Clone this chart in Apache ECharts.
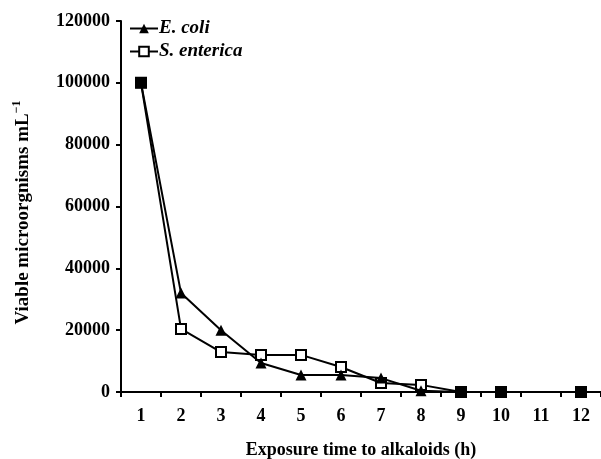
<!DOCTYPE html>
<html>
<head>
<meta charset="utf-8">
<script src="https://cdn.jsdelivr.net/npm/echarts@6/dist/echarts.min.js"></script>
<style>html,body{margin:0;padding:0;background:#fff;}#c{width:601px;height:459px;}</style>
</head>
<body>
<div id="c"></div>
<script>
const categories = ['1','2','3','4','5','6','7','8','9','10','11','12'];
const eColi = [100000, 32000, 20000, 9400, 5500, 5500, 4500, 400, 0, 0, null, 0];
const sEnterica = [100000, 20400, 12900, 12000, 12000, 8100, 2900, 2300, 0, 0, null, 0];
const yTicks = [0, 20000, 40000, 60000, 80000, 100000, 120000];

const FONT = '"Liberation Serif", "Times New Roman", serif';
const chart = echarts.init(document.getElementById('c'), null, {renderer: 'canvas'});

const sData = sEnterica.map((v, i) => {
  if (v !== null && v === eColi[i]) {
    return {value: v, itemStyle: {color: '#000'}};
  }
  return v;
});

chart.setOption({
  animation: false,
  backgroundColor: '#fff',
  grid: {left: 121, right: 0, top: 21, bottom: 67, containLabel: false, outerBoundsMode: 'none'},
  legend: {
    orient: 'vertical',
    left: 124,
    top: 14,
    itemWidth: 28,
    itemHeight: 12,
    itemGap: 4,
    textStyle: {fontFamily: FONT, fontWeight: 'bold', fontStyle: 'italic', fontSize: 19, color: '#000', padding: [0, 0, 0, -4]},
    data: ['E. coli', 'S. enterica']
  },
  xAxis: {
    type: 'category',
    data: categories,
    boundaryGap: true,
    name: 'Exposure time to alkaloids (h)',
    nameLocation: 'middle',
    nameGap: 49,
    nameTextStyle: {fontFamily: FONT, fontWeight: 'bold', fontSize: 18, color: '#000'},
    axisLine: {lineStyle: {color: '#000', width: 2}},
    axisTick: {show: true, length: 5, lineStyle: {color: '#000', width: 2}, alignWithLabel: false},
    axisLabel: {fontFamily: FONT, fontWeight: 'bold', fontSize: 18, color: '#000', margin: 15},
    splitLine: {show: false}
  },
  yAxis: {
    type: 'value',
    min: yTicks[0],
    max: yTicks[yTicks.length - 1],
    interval: yTicks[1] - yTicks[0],
    name: 'Viable microorgnisms mL{sup|−1}',
    nameLocation: 'middle',
    nameGap: 86,
    nameTextStyle: {
      fontFamily: FONT, fontWeight: 'bold', fontSize: 19, color: '#000',
      padding: [0, 12, 0, 0],
      rich: {sup: {fontFamily: FONT, fontWeight: 'bold', fontSize: 12, color: '#000', verticalAlign: 'top', padding: [0, 0, 12, 0]}}
    },
    axisLine: {show: true, lineStyle: {color: '#000', width: 2}},
    axisTick: {show: true, length: 5, lineStyle: {color: '#000', width: 2}},
    axisLabel: {fontFamily: FONT, fontWeight: 'bold', fontSize: 18, color: '#000', margin: 11, formatter: v => String(v)},
    splitLine: {show: false}
  },
  series: [
    {
      name: 'S. enterica',
      type: 'line',
      data: sData,
      connectNulls: true,
      symbol: 'rect',
      symbolSize: 10,
      showAllSymbol: true,
      lineStyle: {color: '#000', width: 2},
      itemStyle: {color: '#fff', borderColor: '#000', borderWidth: 2},
      z: 2
    },
    {
      name: 'E. coli',
      type: 'line',
      data: eColi,
      connectNulls: true,
      symbol: 'triangle',
      symbolSize: 11,
      showAllSymbol: true,
      lineStyle: {color: '#000', width: 2},
      itemStyle: {color: '#000', borderColor: '#000', borderWidth: 0},
      z: 3
    }
  ]
});
</script>
</body>
</html>
